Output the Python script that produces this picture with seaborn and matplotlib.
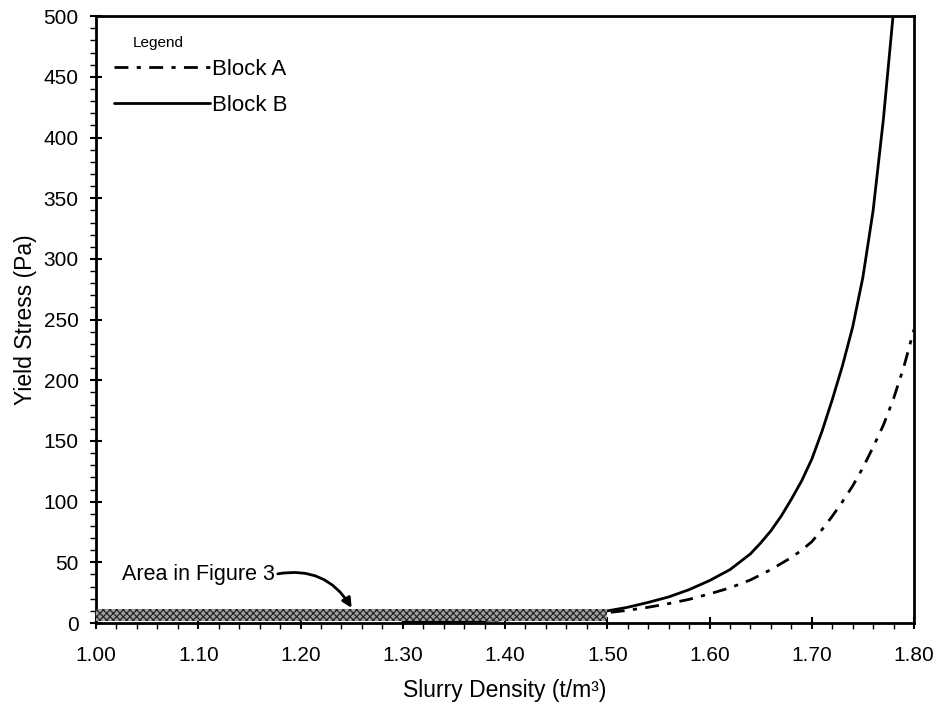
import numpy as np
import pandas as pd
import matplotlib
matplotlib.use("Agg")
import matplotlib.pyplot as plt
import seaborn as sns
from matplotlib.patches import Rectangle
from matplotlib.ticker import MultipleLocator, FormatStrFormatter

density_a = [1.30, 1.35, 1.40, 1.45, 1.50, 1.52, 1.54, 1.56, 1.58, 1.60, 1.62, 1.64,
             1.66, 1.68, 1.69, 1.70, 1.71, 1.72, 1.73, 1.74, 1.75, 1.76, 1.77,
             1.78, 1.79, 1.80]
stress_a = [0.5, 1.2, 2.5, 5.0, 8.5, 10.5, 13.0, 16.0, 19.5, 24.0, 29.0, 35.5,
            44.0, 54.0, 60.0, 67.0, 77.0, 88.0, 100.0, 113.0, 128.0, 145.0, 163.0,
            185.0, 211.0, 242.0]

density_b = [1.30, 1.35, 1.40, 1.45, 1.50, 1.52, 1.54, 1.56, 1.58, 1.60, 1.62, 1.64,
             1.65, 1.66, 1.67, 1.68, 1.69, 1.70, 1.71, 1.72, 1.73, 1.74, 1.75,
             1.76, 1.77, 1.78, 1.785]
stress_b = [0.5, 1.3, 2.8, 5.5, 10.0, 13.0, 17.0, 21.5, 27.5, 35.0, 44.0, 57.0,
            66.0, 76.0, 88.0, 102.0, 117.0, 135.0, 158.0, 184.0, 212.0, 244.0, 285.0,
            340.0, 415.0, 505.0, 560.0]

hatch_x = [1.00, 1.50]
hatch_y = [2.0, 11.5]

df = pd.concat([
    pd.DataFrame({"Density": density_a, "Stress": stress_a, "Block": "Block A"}),
    pd.DataFrame({"Density": density_b, "Stress": stress_b, "Block": "Block B"}),
], ignore_index=True)

sns.set_style("ticks")
plt.rcParams["font.family"] = ["Liberation Sans", "DejaVu Sans"]
plt.rcParams["hatch.linewidth"] = 0.9
plt.rcParams["text.color"] = "black"
plt.rcParams["axes.labelcolor"] = "black"
plt.rcParams["xtick.color"] = "black"
plt.rcParams["ytick.color"] = "black"

fig = plt.figure(figsize=(9.37, 7.04), dpi=100)
ax = fig.add_axes([0.1025, 0.115, 0.873, 0.862])

sns.lineplot(data=df, x="Density", y="Stress", hue="Block", style="Block",
             palette={"Block A": "black", "Block B": "black"},
             dashes={"Block A": (5, 3, 1.5, 3), "Block B": ""},
             linewidth=2.0, ax=ax, zorder=2, sort=False)

ax.add_patch(Rectangle((hatch_x[0], hatch_y[0]), hatch_x[1] - hatch_x[0],
                       hatch_y[1] - hatch_y[0], facecolor="#a0a0a0",
                       edgecolor="#262626", hatch="xxxxx", linewidth=0, zorder=3))

ax.set_xlim(1.00, 1.80)
ax.set_ylim(0, 500)
ax.xaxis.set_major_locator(MultipleLocator(0.1))
ax.xaxis.set_minor_locator(MultipleLocator(0.02))
ax.yaxis.set_major_locator(MultipleLocator(50))
ax.yaxis.set_minor_locator(MultipleLocator(10))
ax.xaxis.set_major_formatter(FormatStrFormatter("%.2f"))
ax.tick_params(which="major", direction="inout", length=9, width=1.5,
               labelsize=15, colors="black")
ax.tick_params(which="minor", direction="out", length=4, width=1.0, colors="black")
ax.tick_params(axis="x", which="major", pad=12)
ax.tick_params(axis="y", which="major", pad=8)
for s in ax.spines.values():
    s.set_linewidth(2.0)
    s.set_color("black")

ax.set_xlabel("Slurry Density (t/m³)", fontsize=16.5, labelpad=10)
ax.set_ylabel("Yield Stress (Pa)", fontsize=16.5, labelpad=5)

ax.annotate("Area in Figure 3", xy=(1.25, 12.5), xytext=(1.025, 40),
            fontsize=15.5, va="center", ha="left",
            arrowprops=dict(arrowstyle="-|>", color="black", lw=2,
                            connectionstyle="arc3,rad=-0.35",
                            mutation_scale=14, shrinkA=0, shrinkB=0,
                            relpos=(1.0, 0.5)),
            zorder=5)

handles, labels = ax.get_legend_handles_labels()
leg = ax.legend(handles, labels, loc="upper left",
                bbox_to_anchor=(0.003, 0.955), frameon=False, fontsize=16,
                handlelength=4.3, handletextpad=0.1,
                labelspacing=0.65, borderaxespad=0.3)
for line in leg.get_lines():
    line.set_linewidth(2.0)
fig.text(133 / 937, 1 - 43 / 704, "Legend", fontsize=11, ha="left", va="center")

fig.savefig("out.png", dpi=100)
